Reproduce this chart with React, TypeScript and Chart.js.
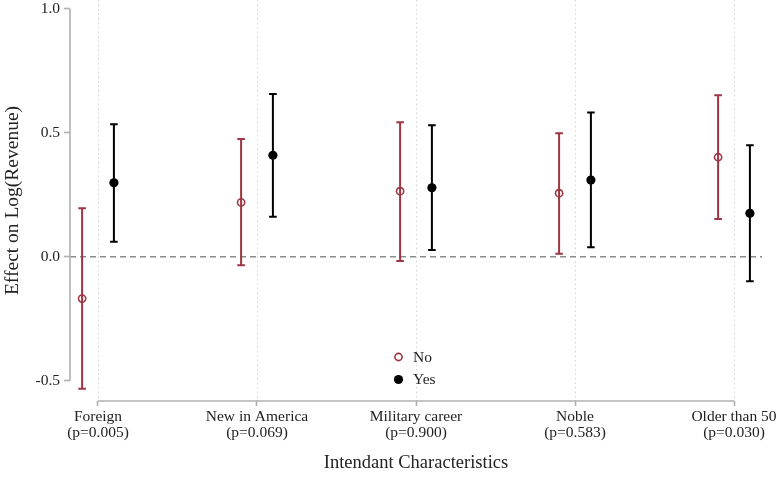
import React, { useEffect, useRef } from "react";
import { Chart, registerables } from "chart.js";

Chart.register(...registerables);

const categories = ["Foreign", "New in America", "Military career", "Noble", "Older than 50"];
const pValues = ["(p=0.005)", "(p=0.069)", "(p=0.900)", "(p=0.583)", "(p=0.030)"];

const noEst = [-0.169, 0.219, 0.264, 0.256, 0.401];
const noLo = [-0.533, -0.035, -0.017, 0.012, 0.152];
const noHi = [0.195, 0.475, 0.542, 0.498, 0.651];

const yesEst = [0.298, 0.409, 0.278, 0.309, 0.175];
const yesLo = [0.060, 0.161, 0.027, 0.038, -0.099];
const yesHi = [0.534, 0.656, 0.530, 0.581, 0.449];

const yTicks = [-0.5, 0, 0.5, 1.0];
const seriesNames = ["No", "Yes"];

const RED = "#9e3542";
const BLACK = "#000000";
const AXIS = "#b0b0b0";
const FONT = "'Liberation Serif', 'Times New Roman', serif";

function drawMarker(ctx: CanvasRenderingContext2D, idx: number, x: number, y: number) {
  ctx.save();
  ctx.beginPath();
  if (idx === 0) {
    ctx.arc(x, y, 3.6, 0, Math.PI * 2);
    ctx.strokeStyle = RED;
    ctx.lineWidth = 1.6;
    ctx.stroke();
  } else {
    ctx.arc(x, y, 4.6, 0, Math.PI * 2);
    ctx.fillStyle = BLACK;
    ctx.fill();
  }
  ctx.restore();
}

const customPlugin = {
  id: "stataStyle",
  beforeDatasetsDraw(chart: any) {
    const { ctx, chartArea, scales } = chart;
    const xs = scales.x;
    const ys = scales.y;
    ctx.save();
    // dotted vertical gridlines
    ctx.strokeStyle = "#d4d4d4";
    ctx.lineWidth = 1;
    ctx.setLineDash([1.5, 3]);
    categories.forEach((_, i) => {
      const px = Math.round(xs.getPixelForValue(i + 1)) + 0.5;
      ctx.beginPath();
      ctx.moveTo(px, chartArea.top);
      ctx.lineTo(px, chartArea.bottom);
      ctx.stroke();
    });
    // zero dashed line
    ctx.strokeStyle = "#8c8c8c";
    ctx.lineWidth = 1.6;
    ctx.setLineDash([6, 4]);
    const y0 = ys.getPixelForValue(0);
    ctx.beginPath();
    ctx.moveTo(chartArea.left, y0);
    ctx.lineTo(chartArea.right, y0);
    ctx.stroke();
    ctx.setLineDash([]);
    // axis lines (Stata style: span first to last tick)
    ctx.strokeStyle = AXIS;
    ctx.lineWidth = 1.6;
    ctx.beginPath();
    ctx.moveTo(chartArea.left, ys.getPixelForValue(yTicks[yTicks.length - 1]));
    ctx.lineTo(chartArea.left, ys.getPixelForValue(yTicks[0]));
    ctx.stroke();
    ctx.beginPath();
    ctx.moveTo(xs.getPixelForValue(1), chartArea.bottom);
    ctx.lineTo(xs.getPixelForValue(categories.length), chartArea.bottom);
    ctx.stroke();
    // error bars
    chart.data.datasets.forEach((ds: any, di: number) => {
      ctx.strokeStyle = di === 0 ? RED : BLACK;
      ctx.lineWidth = 2;
      ds.data.forEach((pt: any) => {
        const px = xs.getPixelForValue(pt.x);
        const pLo = ys.getPixelForValue(pt.lo);
        const pHi = ys.getPixelForValue(pt.hi);
        ctx.beginPath();
        ctx.moveTo(px, pLo);
        ctx.lineTo(px, pHi);
        ctx.moveTo(px - 3.8, pLo);
        ctx.lineTo(px + 3.8, pLo);
        ctx.moveTo(px - 3.8, pHi);
        ctx.lineTo(px + 3.8, pHi);
        ctx.stroke();
      });
    });
    ctx.restore();
  },
  afterDraw(chart: any) {
    const { ctx, chartArea, scales } = chart;
    const xs = scales.x;
    // legend inside plot
    const lx = xs.getPixelForValue(2.89);
    const ly = chartArea.bottom - 44;
    ctx.save();
    ctx.font = `15.5px ${FONT}`;
    ctx.textBaseline = "middle";
    ctx.textAlign = "left";
    seriesNames.forEach((name, i) => {
      const yy = ly + i * 22.5;
      drawMarker(ctx, i, lx, yy);
      ctx.fillStyle = "#222";
      ctx.fillText(name, lx + 14.5, yy + 0.5);
    });
    ctx.restore();
  },
};

export default function App() {
  const ref = useRef<HTMLCanvasElement | null>(null);
  useEffect(() => {
    document.body.style.margin = "0";
    const canvas = ref.current;
    if (!canvas) return;
    const noData = categories.map((_, i) => ({ x: i + 1 - 0.1, y: noEst[i], lo: noLo[i], hi: noHi[i] }));
    const yesData = categories.map((_, i) => ({ x: i + 1 + 0.1, y: yesEst[i], lo: yesLo[i], hi: yesHi[i] }));
    const chart = new Chart(canvas, {
      type: "scatter",
      data: {
        datasets: [
          {
            label: seriesNames[0],
            data: noData,
            pointRadius: 3.6,
            pointBorderWidth: 1.6,
            pointBorderColor: RED,
            pointBackgroundColor: "rgba(0,0,0,0)",
            pointHoverRadius: 3.6,
          },
          {
            label: seriesNames[1],
            data: yesData,
            pointRadius: 4.6,
            pointBorderWidth: 0,
            pointBorderColor: BLACK,
            pointBackgroundColor: BLACK,
            pointHoverRadius: 4.6,
          },
        ],
      },
      options: {
        animation: false,
        responsive: false,
        devicePixelRatio: 1,
        layout: { autoPadding: false, padding: { left: 0, right: 15, top: 0, bottom: 0 } },
        plugins: { legend: { display: false }, tooltip: { enabled: false } },
        events: [],
        scales: {
          x: {
            type: "linear",
            min: 0.8239,
            max: 5.1761,
            afterBuildTicks: (scale: any) => {
              scale.ticks = categories.map((_, i) => ({ value: i + 1 }));
            },
            afterFit: (scale: any) => {
              scale.height = 84;
              scale.paddingLeft = 0;
              scale.paddingRight = 0;
            },
            ticks: {
              autoSkip: false,
              maxRotation: 0,
              padding: 3,
              color: "#222",
              font: { family: FONT, size: 15.5, lineHeight: 1.02 },
              callback: (value: any) => {
                const i = Math.round(Number(value)) - 1;
                return [categories[i], pValues[i]];
              },
            },
            grid: {
              drawOnChartArea: false,
              drawTicks: true,
              tickLength: 5,
              tickColor: AXIS,
              tickWidth: 1.6,
              color: AXIS,
            },
            border: { display: false },
            title: {
              display: true,
              text: "Intendant Characteristics",
              color: "#222",
              font: { family: FONT, size: 18.5, lineHeight: 1.2 },
              padding: { top: 0, bottom: 11 },
            },
          },
          y: {
            type: "linear",
            min: -0.5819,
            max: 1.0351,
            afterBuildTicks: (scale: any) => {
              scale.ticks = yTicks.map((v) => ({ value: v }));
            },
            afterFit: (scale: any) => {
              scale.width = 70;
              scale.paddingTop = 0;
              scale.paddingBottom = 0;
            },
            ticks: {
              padding: 4,
              color: "#222",
              font: { family: FONT, size: 15.5 },
              callback: (value: any) => Number(value).toFixed(1),
            },
            grid: {
              drawOnChartArea: false,
              drawTicks: true,
              tickLength: 6,
              tickColor: AXIS,
              tickWidth: 1.6,
              color: AXIS,
            },
            border: { display: false },
            title: {
              display: true,
              text: "Effect on Log(Revenue)",
              color: "#222",
              font: { family: FONT, size: 19.5, lineHeight: 1.2 },
              padding: { top: 1, bottom: 0 },
            },
          },
        },
      },
      plugins: [customPlugin],
    } as any);
    return () => chart.destroy();
  }, []);
  return (
    <div style={{ width: 777, height: 485 }}>
      <canvas ref={ref} width={777} height={485} style={{ display: "block", width: 777, height: 485 }} />
    </div>
  );
}
